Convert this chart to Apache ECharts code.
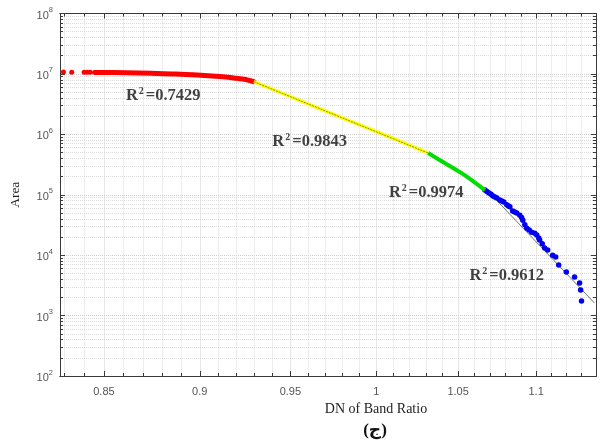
<!DOCTYPE html>
<html><head><meta charset="utf-8">
<script src="https://cdn.jsdelivr.net/npm/echarts@6/dist/echarts.min.js"></script>
<style>html,body{margin:0;padding:0;background:#fff}#c{width:600px;height:444px}</style>
</head><body><div id="c"></div>
<script>
// ---- data ----
const xMajorTicks = [0.85, 0.9, 0.95, 1, 1.05, 1.1];
const xMinorTicks = [0.83, 0.84, 0.86, 0.87, 0.88, 0.89, 0.91, 0.92, 0.93, 0.94, 0.96, 0.97, 0.98, 0.99,
  1.01, 1.02, 1.03, 1.04, 1.06, 1.07, 1.08, 1.09, 1.11, 1.12, 1.13];
const yDecadeTicks = [1e2, 1e3, 1e4, 1e5, 1e6, 1e7, 1e8];
const yMinorMultipliers = [2, 3, 4, 5, 6, 7, 8, 9];

const redSparse = [[0.8278, 1.075e7], [0.8297, 1.075e7], [0.8338, 1.07e7], [0.8400, 1.07e7], [0.8415, 1.07e7], [0.8430, 1.065e7]];
const redCurve = [[0.8452, 1.06e7], [0.8614, 1.047e7], [0.8743, 1.023e7], [0.8873, 9.96e6], [0.9006, 9.48e6],
  [0.9087, 9.13e6], [0.9153, 8.79e6], [0.9197, 8.46e6], [0.9241, 8.14e6], [0.9295, 7.43e6]];
const yellowCurve = [[0.9295, 7.43e6], [0.9547, 3.70e6], [0.9788, 1.934e6], [1.0083, 9.02e5], [1.0314, 4.90e5]];
const greenCurve = [[1.0314, 4.90e5], [1.0369, 3.98e5], [1.0531, 2.20e5], [1.0669, 1.196e5]];
const bluePoints = [[1.0669, 1.20e5], [1.0682, 1.13e5], [1.0695, 1.07e5], [1.0708, 1.02e5], [1.0720, 9.5e4],
  [1.0733, 9.2e4], [1.0745, 8.8e4], [1.0764, 8.2e4], [1.0777, 7.9e4], [1.0790, 7.6e4], [1.0809, 6.8e4],
  [1.0820, 6.5e4], [1.0829, 6.3e4], [1.0847, 5.4e4], [1.0860, 5.2e4], [1.0874, 5.0e4], [1.0893, 4.6e4],
  [1.0905, 4.2e4], [1.0913, 3.8e4], [1.0926, 3.2e4], [1.0939, 2.8e4], [1.0955, 2.6e4], [1.0971, 2.4e4],
  [1.0991, 2.3e4], [1.1004, 2.15e4], [1.1017, 1.92e4], [1.1023, 1.78e4], [1.1040, 1.55e4], [1.1056, 1.31e4],
  [1.1076, 1.22e4], [1.1109, 1.00e4], [1.1129, 9.3e3], [1.1149, 6.86e3], [1.1200, 5.25e3], [1.1255, 4.34e3],
  [1.1289, 3.45e3], [1.1296, 2.64e3], [1.1302, 1.74e3]];
const fitYellow = [[0.9295, 7.43e6], [1.0314, 4.90e5]];
const fitBlue = [[1.0669, 1.29e5], [1.1390, 1.61e3]];
const r2Values = ['0.7429', '0.9843', '0.9974', '0.9612'];
const r2Anchors = [[0.8806, 4.47e6], [0.9610, 7.75e5], [1.0302, 1.108e5], [1.0809, 4.68e3]];

const xMin = 0.828, xMax = 1.14, yMin = 1e2, yMax = 1e8;

// ---- build ----
const yMinorTicks = [];
yDecadeTicks.slice(0, -1).forEach(d => yMinorMultipliers.forEach(m => yMinorTicks.push(m * d)));

const axisCol = '#3a3a3a';
const gridMajor = {show: true, lineStyle: {color: '#cfcfcf', type: 'dotted', width: 1}};
const gridMinor = {show: true, lineStyle: {color: '#dcdcdc', type: 'dotted', width: 1}};
const lbl = {fontFamily: '"Liberation Sans", Arial', fontSize: 11, color: '#555'};

function xAx(pos, ticks, len, opts) {
  return Object.assign({
    type: 'log', logBase: 10, min: xMin, max: xMax, position: pos, gridIndex: 0,
    axisLine: {show: true, onZero: false, lineStyle: {color: axisCol, width: 1}},
    axisTick: {show: true, inside: true, length: len, customValues: ticks, lineStyle: {color: axisCol}},
    axisLabel: {show: false}, splitLine: {show: false}
  }, opts || {});
}
function yAx(pos, ticks, len, opts) {
  return Object.assign({
    type: 'log', logBase: 10, min: yMin, max: yMax, position: pos, gridIndex: 0,
    axisLine: {show: true, onZero: false, lineStyle: {color: axisCol, width: 1}},
    axisTick: {show: true, inside: true, length: len, customValues: ticks, lineStyle: {color: axisCol}},
    axisLabel: {show: false}, splitLine: {show: false}
  }, opts || {});
}

const serif = '"Liberation Serif", "Times New Roman"';
const option = {
  animation: false,
  backgroundColor: '#fff',
  grid: {left: 58, right: 4, top: 13.5, bottom: 68},
  xAxis: [
    xAx('bottom', xMajorTicks, 5, {
      axisLabel: Object.assign({show: true, margin: 10, customValues: xMajorTicks,
        formatter: v => String(Math.round(v * 100) / 100)}, lbl),
      splitLine: gridMajor,
      name: 'DN of Band Ratio', nameLocation: 'middle', nameGap: 24,
      nameTextStyle: {fontFamily: serif, fontSize: 14, color: '#222', padding: [0, 0, 0, 96]}
    }),
    xAx('bottom', xMinorTicks, 3, {splitLine: gridMinor}),
    xAx('top', xMajorTicks, 5),
    xAx('top', xMinorTicks, 3)
  ],
  yAxis: [
    yAx('left', yDecadeTicks, 5, {
      axisLabel: Object.assign({show: true, margin: 7, customValues: yDecadeTicks,
        formatter: v => '{b|10}{s|' + Math.round(Math.log10(v)) + '}',
        rich: {
          b: {fontFamily: '"Liberation Sans", Arial', fontSize: 11, color: '#555', verticalAlign: 'bottom'},
          s: {fontFamily: '"Liberation Sans", Arial', fontSize: 7.5, color: '#555', verticalAlign: 'bottom', padding: [0, 0, 7, 0]}
        }}, lbl),
      splitLine: gridMajor,
      name: 'Area', nameLocation: 'middle', nameGap: 38,
      nameTextStyle: {fontFamily: serif, fontSize: 13.5, color: '#222'}
    }),
    yAx('left', yMinorTicks, 3, {splitLine: gridMinor}),
    yAx('right', yDecadeTicks, 5),
    yAx('right', yMinorTicks, 3)
  ],
  series: [
    {type: 'scatter', name: 'red-sparse', data: redSparse, symbol: 'circle', symbolSize: 5,
      itemStyle: {color: '#ff0000', opacity: 1}, silent: true},
    {type: 'line', name: 'red', data: redCurve, showSymbol: false, smooth: 0.3,
      lineStyle: {color: '#ff0000', width: 5, cap: 'round'}, silent: true},
    {type: 'line', name: 'yellow', data: yellowCurve, showSymbol: false,
      lineStyle: {color: '#ffff00', width: 3.5}, silent: true},
    {type: 'line', name: 'green', data: greenCurve, showSymbol: false, smooth: 0.3,
      lineStyle: {color: '#00dd00', width: 4}, silent: true},
    {type: 'scatter', name: 'blue', data: bluePoints, symbol: 'circle', symbolSize: 5.5,
      itemStyle: {color: '#0000ee', opacity: 1}, silent: true},
    {type: 'line', name: 'fit-y', data: fitYellow, showSymbol: false,
      lineStyle: {color: '#333', width: 0.8, type: [2, 1], opacity: 0.7}, silent: true},
    {type: 'line', name: 'fit-b', data: fitBlue, showSymbol: false,
      lineStyle: {color: '#222', width: 0.8, opacity: 0.8}, silent: true, z: 1},
    {type: 'scatter', name: 'r2', symbolSize: 0, silent: true,
      data: r2Anchors.map((p, i) => ({value: p, name: r2Values[i]})),
      label: {show: true, position: 'inside',
        formatter: p => '{r|R}{s|2}{v|=' + p.name + '}',
        rich: {
          r: {fontFamily: serif, fontWeight: 'bold', fontSize: 16.5, color: '#111', verticalAlign: 'bottom'},
          s: {fontFamily: serif, fontWeight: 'bold', fontSize: 10, color: '#111', verticalAlign: 'bottom', padding: [0, 2, 8, 1]},
          v: {fontFamily: serif, fontWeight: 'bold', fontSize: 16.5, color: '#111', verticalAlign: 'bottom'}
        }}}
  ],
  graphic: [
    {type: 'text', x: 375, y: 431, silent: true,
      style: {text: '(ج)', textAlign: 'center', textVerticalAlign: 'middle',
        font: 'bold 17px "Liberation Serif", "DejaVu Sans", "Noto Sans"', fill: '#111'}}
  ]
};
const chart = echarts.init(document.getElementById('c'), null, {renderer: 'canvas'});
chart.setOption(option);
</script>
</body></html>
